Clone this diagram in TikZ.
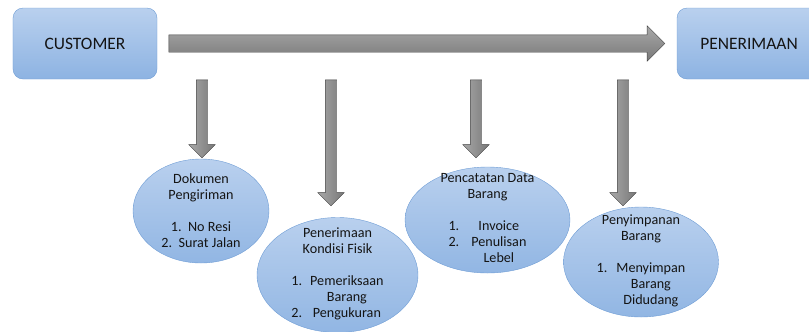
\documentclass[tikz,border=0pt]{standalone}
\usepackage{fontspec}
\setmainfont{Carlito}
\usetikzlibrary{shapes.geometric,shapes.arrows,calc}

\definecolor{biruAtas}{HTML}{B9D0EE}
\definecolor{biruBawah}{HTML}{8DB3E2}
\definecolor{biruGaris}{HTML}{6F9DD5}
\definecolor{abuTerang}{HTML}{A8A8A8}
\definecolor{abuGelap}{HTML}{787878}
\definecolor{abuGaris}{HTML}{404040}

\tikzset{
  kotak/.style={draw=biruGaris, rounded corners=10bp, top color=biruAtas, bottom color=biruBawah,
    minimum width=144bp, minimum height=71bp, font=\fontsize{17.5}{20}\selectfont, text=black!92},
  elips/.style={ellipse, draw=biruGaris, top color=biruAtas, bottom color=biruBawah!90!biruAtas, inner sep=0pt},
  isi/.style={align=center, inner sep=0pt, font=\fontsize{14.2}{16}\selectfont, text=black!92},
  panahbesar/.style={single arrow, draw=abuGaris, top color=abuTerang, bottom color=abuGelap,
    inner xsep=0pt, inner ysep=8.5bp, single arrow head extend=9bp},
  panahturun/.style={single arrow, shape border rotate=270, draw=abuGaris, left color=abuTerang, right color=abuGelap,
    inner xsep=5.5bp, inner ysep=0pt, single arrow head extend=7.5bp},
}

\begin{document}
\begin{tikzpicture}[x=1bp,y=-1bp]
\useasboundingbox (0,0) rectangle (809,331);

% kotak atas
\node[kotak] (customer) at (85,43.5) {CUSTOMER};
\node[kotak] (penerimaan) at (749,43.5) {PENERIMAAN};
\node[panahbesar, minimum height=496bp] (alur) at ($(customer.east)!0.5!(penerimaan.west)+(-4.5,0)$) {};

% panah ke bawah
\node[panahturun, minimum height=78bp] (p1) at (202,116) {};
\node[panahturun, minimum height=126bp] (p2) at (331,140) {};
\node[panahturun, minimum height=78bp] (p3) at (476,116) {};
\node[panahturun, minimum height=126bp] (p4) at (623,140) {};

% elips
\node[elips, minimum width=136bp, minimum height=104bp] (dokumen) at (201,211) {};
\node[isi] (dokumenteks) at (dokumen) {Dokumen\\Pengiriman\\[16bp]1.\ \ No Resi\\2.\ \ Surat Jalan};

\node[elips, minimum width=161bp, minimum height=115bp] (kondisi) at (337.5,275) {};
\node[isi] (kondisiteks) at (kondisi) {Penerimaan\\Kondisi Fisik\\[16bp]%
\begin{tabular}[t]{@{}r@{\hspace{8bp}}c@{}}1.&Pemeriksaan\\&Barang\\2.&Pengukuran\end{tabular}};

\node[elips, minimum width=165bp, minimum height=106bp] (pencatatan) at (487.5,220) {};
\node[isi] (pencatatanteks) at (pencatatan) {Pencatatan Data\\Barang\\[16bp]%
\begin{tabular}[t]{@{}r@{\hspace{12bp}}c@{}}1.&Invoice\\2.&Penulisan\\&Lebel\end{tabular}};

\node[elips, minimum width=155bp, minimum height=110bp] (penyimpanan) at (641,262) {};
\node[isi] (penyimpananteks) at (penyimpanan) {Penyimpanan\\Barang\\[16bp]%
\begin{tabular}[t]{@{}r@{\hspace{9bp}}c@{}}1.&Menyimpan\\&Barang\\&Didudang\end{tabular}};
\end{tikzpicture}
\end{document}
